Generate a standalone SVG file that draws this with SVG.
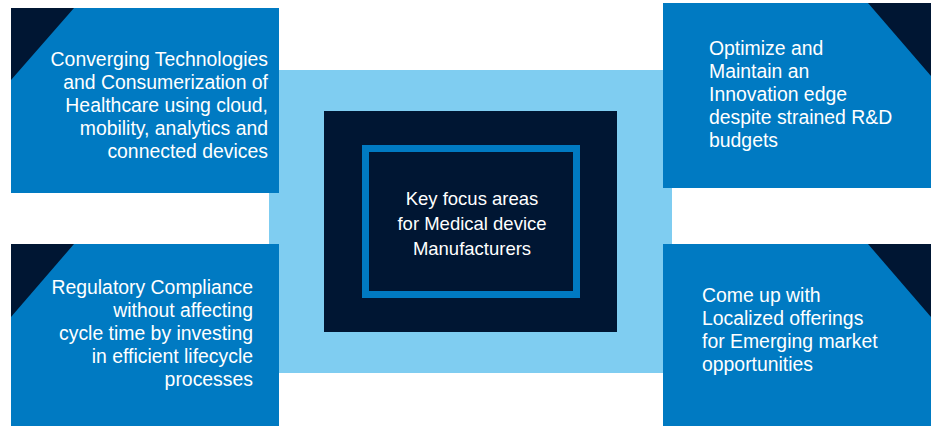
<svg xmlns="http://www.w3.org/2000/svg" width="935" height="426" viewBox="0 0 935 426">
<style>
.box{fill:#007AC2}
.tri{fill:#001633}
.t{font-family:"Liberation Sans",Arial,sans-serif;font-size:19.4px;fill:#FFFFFF}
.r{text-anchor:end}
.c{text-anchor:middle;font-size:18.5px}
</style>
<rect width="935" height="426" fill="#FFFFFF"/>
<g id="connectors">
<rect x="269" y="70" width="403" height="303" fill="#7FCDF1"/>
</g>
<g id="center">
<rect x="324" y="111" width="293" height="221" fill="#001633"/>
<rect x="365.5" y="148.5" width="211" height="146" fill="none" stroke="#007AC2" stroke-width="7"/>
<text class="t c" x="472" y="205">Key focus areas</text>
<text class="t c" x="472" y="230">for Medical device</text>
<text class="t c" x="472" y="255">Manufacturers</text>
</g>
<g id="node-top-left">
<rect class="box" x="11" y="8" width="268" height="185"/>
<polygon class="tri" points="11,8 74,8 11,80"/>
<text class="t r" x="268" y="66">Converging Technologies</text>
<text class="t r" x="268" y="89">and Consumerization of</text>
<text class="t r" x="268" y="112">Healthcare using cloud,</text>
<text class="t r" x="268" y="135">mobility, analytics and</text>
<text class="t r" x="268" y="158">connected devices</text>
</g>
<g id="node-top-right">
<rect class="box" x="663" y="3" width="268" height="185"/>
<polygon class="tri" points="868,3 931,3 931,76"/>
<text class="t" x="709" y="55">Optimize and</text>
<text class="t" x="709" y="78">Maintain an</text>
<text class="t" x="709" y="101">Innovation edge</text>
<text class="t" x="709" y="124">despite strained R&amp;D</text>
<text class="t" x="709" y="147">budgets</text>
</g>
<g id="node-bottom-left">
<rect class="box" x="11" y="244" width="268" height="182"/>
<polygon class="tri" points="11,244 74,244 11,317"/>
<text class="t r" x="253" y="294">Regulatory Compliance</text>
<text class="t r" x="253" y="317">without affecting</text>
<text class="t r" x="253" y="340">cycle time by investing</text>
<text class="t r" x="253" y="363">in efficient lifecycle</text>
<text class="t r" x="253" y="386">processes</text>
</g>
<g id="node-bottom-right">
<rect class="box" x="663" y="244" width="268" height="182"/>
<polygon class="tri" points="868,244 931,244 931,317"/>
<text class="t" x="702" y="302">Come up with</text>
<text class="t" x="702" y="325">Localized offerings</text>
<text class="t" x="702" y="348">for Emerging market</text>
<text class="t" x="702" y="371">opportunities</text>
</g>
</svg>
